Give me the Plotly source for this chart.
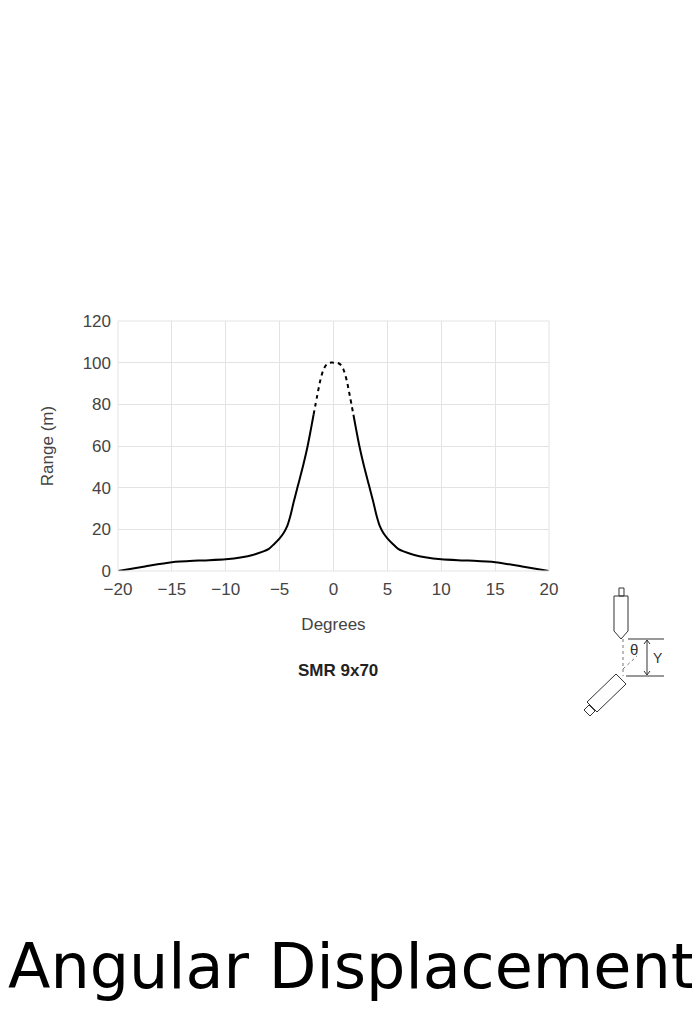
import plotly.graph_objects as go

# data
deg_left = [-20, -17.5, -15, -12.5, -10, -8.5, -7.5, -6.5, -6, -5.5, -5, -4.6, -4.3, -4, -3.7, -3.3, -2.8, -2.4, -2.1, -1.85]
rng_left = [0, 2.2, 4.2, 5.0, 5.6, 6.6, 7.7, 9.4, 10.6, 13.0, 15.7, 18.5, 21.5, 26.5, 33, 41, 51, 60, 68, 75]
deg_top = [-1.85, -1.5, -1.2, -0.9, -0.6, -0.3, 0, 0.3, 0.6, 0.9, 1.2, 1.5, 1.85]
rng_top = [75, 84.5, 92, 97, 99.3, 100, 100, 100, 99.3, 97, 92, 84.5, 75]

deg_right = [-d for d in reversed(deg_left)]
rng_right = list(reversed(rng_left))

W, H = 700, 1024
OFF = 7  # page offset of the rendered figure
L, T = 117 - OFF, 320 - OFF
pw, ph = 431, 250
R, B = W - L - pw, H - T - ph


def px(x, y):
    return (x - OFF - L) / pw, (H - B - (y - OFF)) / ph


def path(points, close=False):
    s = ""
    for i, (x, y) in enumerate(points):
        a, b = px(x, y)
        s += ("M" if i == 0 else "L") + f"{a:.4f},{b:.4f} "
    return s + ("Z" if close else "")


fig = go.Figure()
line = dict(color="black", width=2)
fig.add_trace(go.Scatter(x=deg_left, y=rng_left, mode="lines", line=dict(line, shape="spline", smoothing=0.8)))
fig.add_trace(go.Scatter(x=deg_right, y=rng_right, mode="lines", line=dict(line, shape="spline", smoothing=0.8)))
fig.add_trace(go.Scatter(x=deg_top, y=rng_top, mode="lines", line=dict(line, shape="spline", dash="4px,4px")))

shapes = []
ic = dict(color="#333", width=1)
# top sensor
shapes.append(dict(type="path", path=path([(613, 595), (627, 595), (627, 630), (620, 638), (613, 630)], True), line=ic))
shapes.append(dict(type="path", path=path([(618, 587), (623, 587), (623, 595), (618, 595)], True), line=ic))
# bottom sensor (tilted)
shapes.append(dict(type="path", path=path([(615, 673), (625, 683), (596, 711), (586, 701)], True), line=ic))
shapes.append(dict(type="path", path=path([(588, 704), (594, 710), (589, 715), (583, 709)], True), line=ic))
# dimension lines
shapes.append(dict(type="path", path=path([(627, 638), (663, 638)]), line=ic))
shapes.append(dict(type="path", path=path([(625, 675), (663, 675)]), line=ic))
shapes.append(dict(type="path", path=path([(646, 639), (646, 674)]), line=ic))
shapes.append(dict(type="path", path=path([(622, 638), (622, 675)]), line=dict(color="#777", width=1, dash="dot")))
shapes.append(dict(type="path", path=path([(622, 668), (636, 655)]), line=dict(color="#777", width=1, dash="dot")))
for p in ([(643, 643), (646, 639), (649, 643)], [(643, 670), (646, 674), (649, 670)]):
    shapes.append(dict(type="path", path=path(p), line=ic))
for s in shapes:
    s.update(xref="paper", yref="paper")

annotations = []
for xx, yy, t, s in [(657, 657, "Y", 14), (633, 648, "θ", 15)]:
    a, b = px(xx, yy)
    annotations.append(dict(x=a, y=b, text=t, font=dict(size=s, color="#333", family="Liberation Sans")))
a, b = px(337, 669)
annotations.append(dict(x=a, y=b, text="<b>SMR 9x70</b>", font=dict(size=17, color="#222", family="Liberation Sans")))
a, b = px(350, 965)
annotations.append(dict(x=a, y=b, text="Angular Displacement", font=dict(size=62, color="black", family="DejaVu Sans")))
for an in annotations:
    an.update(xref="paper", yref="paper", showarrow=False, xanchor="center", yanchor="middle")

axis = dict(showgrid=True, gridcolor="#e3e3e3", zeroline=False, showline=False, ticks="",
            tickfont=dict(size=17, color="#444"), ticklabelstandoff=6)
fig.update_layout(
    width=W, height=H, showlegend=False,
    margin=dict(l=L, r=R, t=T, b=B, autoexpand=False),
    plot_bgcolor="white", paper_bgcolor="white",
    font=dict(family="Liberation Sans", color="#444"),
    xaxis=dict(axis, range=[-20, 20], tickvals=[-20, -15, -10, -5, 0, 5, 10, 15, 20],
               ticktext=["\u221220", "\u221215", "\u221210", "\u22125", "0", "5", "10", "15", "20"],
               title=dict(text="Degrees", font=dict(size=17, color="#444"), standoff=20)),
    yaxis=dict(axis, range=[0, 120], tickvals=[0, 20, 40, 60, 80, 100, 120],
               title=dict(text="Range (m)", font=dict(size=17, color="#444"), standoff=24)),
    shapes=shapes, annotations=annotations,
)
fig.add_shape(type="rect", xref="paper", yref="paper", x0=0, y0=0, x1=1, y1=1,
              line=dict(color="#e3e3e3", width=1))

fig.write_html("out.html")
